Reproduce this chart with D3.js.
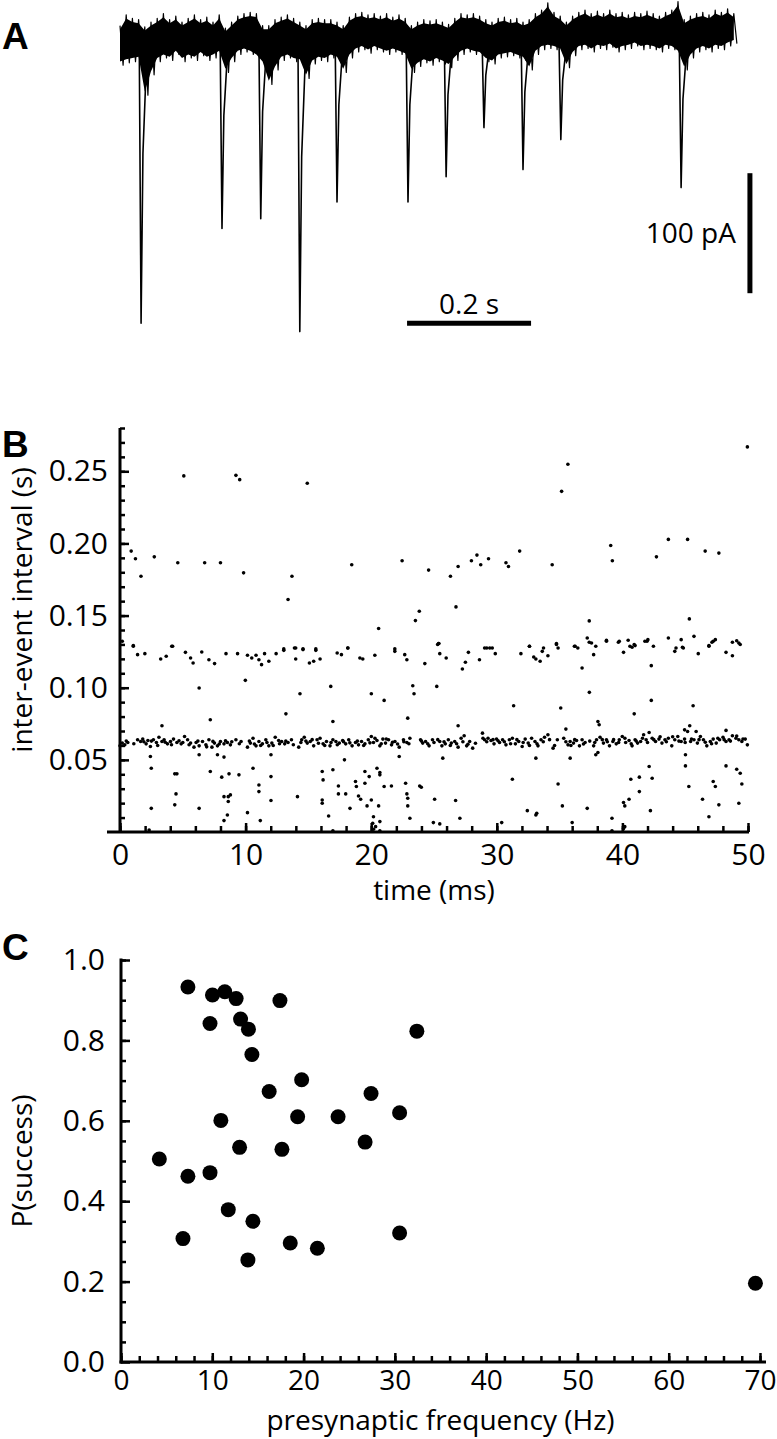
<!DOCTYPE html>
<html>
<head>
<meta charset="utf-8">
<script src="https://cdn.jsdelivr.net/npm/d3@7"></script>
<style>
body { margin: 0; background: #fff; }
svg text { font-family: 'Open Sans', sans-serif; fill: #000; }
.panel-label { font-family: 'Liberation Sans', Arial, sans-serif; font-weight: bold; font-size: 37px; }
.title { font-size: 28px; }
</style>
</head>
<body>
<svg id="fig" width="777" height="1439"></svg>
<script>
'use strict';

// ---- panel A: current trace (pA), noise envelope sampled every 10 ms ----
const traceStep = 0.01;
const traceUpper = [12, 21, 18, 17, 11, 15, 18, 22, 17, 20,
                    15, 18, 21, 17, 19, 15, 21, 10, 15, 20,
                    22, 23, 22, 12, 12, 17, 19, 21, 18, 15,
                    12, 17, 18, 17, 17, 15, 12, 19, 22, 23,
                    21, 22, 20, 22, 19, 21, 18, 12, 15, 17,
                    16, 17, 15, 13, 18, 22, 21, 22, 20, 17,
                    15, 18, 19, 17, 18, 15, 17, 22, 25, 31,
                    23, 20, 15, 20, 23, 25, 22, 24, 22, 25,
                    22, 23, 21, 23, 22, 24, 22, 20, 23, 25,
                    32, 17, 20, 22, 23, 21, 25, 23, 26, 22];
const traceLower = [-21, -19, -18, -17, -46, -29, -18, -15, -17, -12,
                    -18, -15, -17, -13, -17, -15, -12, -27, -18, -12,
                    -10, -12, -15, -21, -37, -25, -17, -15, -18, -19,
                    -32, -20, -17, -18, -15, -17, -27, -15, -10, -8,
                    -11, -8, -10, -12, -10, -12, -14, -27, -22, -19,
                    -21, -18, -20, -23, -17, -12, -10, -12, -13, -18,
                    -20, -15, -14, -13, -15, -17, -25, -12, -8, -7,
                    -8, -10, -23, -13, -8, -7, -10, -7, -8, -6,
                    -10, -8, -7, -5, -8, -7, -8, -10, -7, -8,
                    -12, -25, -15, -10, -8, -10, -7, -8, -5, -3];
const eventTimes = [0.034, 0.1645, 0.227, 0.290, 0.350, 0.4645, 0.526, 0.587, 0.650, 0.711, 0.905];
const eventPeaks = [-236, -157, -149, -243, -135, -135, -114, -73, -108, -83, -123];

// ---- panel B: inter-event intervals, [time (ms), interval (s)] ----
const ieiPoints = [
  // top scatter
  [0.89, 0.1947], [1.23, 0.1894], [1.67, 0.1773], [2.73, 0.1907], [4.60, 0.1866], [5.08, 0.2468],
  [6.74, 0.1866], [8.00, 0.1866], [9.23, 0.2472], [9.53, 0.2442], [9.84, 0.1796], [13.38, 0.1611],
  [13.69, 0.1773], [14.91, 0.2417], [18.45, 0.1852], [20.59, 0.1410], [22.46, 0.1880], [23.52, 0.1465],
  [23.83, 0.1530], [24.57, 0.1815], [25.39, 0.1306], [26.31, 0.1773], [26.75, 0.1560], [26.92, 0.1840],
  [27.98, 0.1880], [28.42, 0.1919], [28.72, 0.1852], [29.34, 0.1894], [30.73, 0.1866], [30.93, 0.1840],
  [31.82, 0.1947], [34.41, 0.1852], [35.16, 0.2361], [35.66, 0.2549], [37.36, 0.1463], [39.07, 0.1986],
  [39.20, 0.1880], [42.71, 0.1907], [43.66, 0.2028], [45.19, 0.2028], [45.33, 0.1477], [46.59, 0.1947],
  [47.68, 0.1933], [49.95, 0.2669],
  // 0.12-0.13 band
  [0.18, 0.1322], [1.06, 0.1287], [4.19, 0.1287], [13.04, 0.1269], [13.99, 0.1275], [14.57, 0.1269],
  [15.59, 0.1269], [18.14, 0.1275], [21.88, 0.1269], [25.36, 0.1306], [29.03, 0.1275], [29.44, 0.1275],
  [32.60, 0.1287], [33.72, 0.1275], [34.75, 0.1306], [34.88, 0.1275], [36.18, 0.1287], [36.45, 0.1275],
  [37.20, 0.1345], [37.36, 0.1315], [37.88, 0.1287], [38.73, 0.1329], [39.68, 0.1315], [40.46, 0.1329],
  [40.77, 0.1280], [41.01, 0.1292], [41.79, 0.1322], [42.03, 0.1333], [42.47, 0.1287], [43.66, 0.1345],
  [44.27, 0.1275], [44.68, 0.1333], [44.78, 0.1280], [45.70, 0.1356], [46.89, 0.1287], [47.13, 0.1315],
  [47.40, 0.1333], [48.76, 0.1315], [49.10, 0.1326], [49.38, 0.1299],
  [1.06, 0.1292], [1.40, 0.1229], [1.98, 0.1236], [3.24, 0.1199], [3.68, 0.1218], [4.12, 0.1287],
  [5.21, 0.1245], [5.62, 0.1206], [5.82, 0.1171], [6.51, 0.1248], [7.08, 0.1194], [7.53, 0.1167],
  [8.44, 0.1236], [9.36, 0.1236], [10.15, 0.1225], [10.49, 0.1206], [10.83, 0.1225], [11.06, 0.1194],
  [11.27, 0.1160], [11.51, 0.1236], [11.85, 0.1183], [12.43, 0.1236], [13.04, 0.1259], [13.89, 0.1275],
  [13.99, 0.1199], [14.57, 0.1264], [15.08, 0.1171], [15.42, 0.1183], [15.59, 0.1259], [15.93, 0.1199],
  [17.29, 0.1241], [17.63, 0.1229], [18.14, 0.1275], [19.10, 0.1206], [19.33, 0.1199], [20.29, 0.1225],
  [21.88, 0.1252], [22.67, 0.1229], [22.84, 0.1194], [24.27, 0.1167], [25.29, 0.1299], [25.46, 0.1236],
  [25.97, 0.1206], [27.26, 0.1130], [27.50, 0.1176], [27.74, 0.1245], [28.62, 0.1194], [29.20, 0.1275],
  [29.64, 0.1275], [29.88, 0.1236], [31.92, 0.1236], [32.60, 0.1287], [32.94, 0.1213], [33.11, 0.1199],
  [33.45, 0.1183], [33.62, 0.1252], [34.07, 0.1222], [34.75, 0.1299], [36.24, 0.1287], [36.79, 0.1137],
  [37.54, 0.1310], [37.71, 0.1229], [38.73, 0.1322], [39.75, 0.1322], [40.09, 0.1245], [40.60, 0.1287],
  [40.94, 0.1299], [41.96, 0.1322], [42.30, 0.1153], [44.17, 0.1252], [44.85, 0.1275], [46.04, 0.1236],
  [46.89, 0.1292], [47.23, 0.1322], [48.25, 0.1245], [48.76, 0.1222], [49.27, 0.1310],
  // between the bands
  [6.30, 0.0998], [9.98, 0.1051], [14.33, 0.0958], [16.78, 0.1009], [20.01, 0.0958], [21.03, 0.0912],
  [23.31, 0.1014], [23.41, 0.0958], [22.91, 0.0789], [25.22, 0.1009], [37.37, 0.0968], [31.34, 0.0875],
  [35.09, 0.0859], [42.30, 0.0912], [40.94, 0.0819], [45.63, 0.0875], [7.19, 0.0778], [3.34, 0.0736],
  [13.21, 0.0819], [16.95, 0.0766], [26.92, 0.0736], [38.05, 0.0766], [38.15, 0.0743], [45.36, 0.0736],
  [44.95, 0.0708], [45.87, 0.0697], [48.25, 0.0704], [35.50, 0.0713],
  // dense band near 0.06
  [0.00, 0.0597], [0.18, 0.0616], [0.38, 0.0604], [0.62, 0.0620], [1.40, 0.0639], [1.64, 0.0627],
  [1.81, 0.0644], [2.08, 0.0611], [2.22, 0.0634], [2.42, 0.0593], [2.66, 0.0639], [2.90, 0.0620],
  [3.10, 0.0657], [3.34, 0.0627], [3.51, 0.0639], [3.78, 0.0611], [4.02, 0.0627], [4.26, 0.0644],
  [4.53, 0.0620], [4.87, 0.0611], [5.14, 0.0662], [5.38, 0.0639], [5.62, 0.0616], [5.89, 0.0588],
  [6.06, 0.0620], [6.30, 0.0597], [6.57, 0.0627], [6.84, 0.0604], [7.08, 0.0639], [7.32, 0.0588],
  [7.52, 0.0616], [7.76, 0.0597], [8.00, 0.0627], [8.28, 0.0611], [8.55, 0.0620], [8.79, 0.0604],
  [9.23, 0.0639], [9.64, 0.0627], [10.15, 0.0588], [10.38, 0.0616], [10.59, 0.0650], [10.83, 0.0597],
  [11.06, 0.0627], [11.34, 0.0611], [11.61, 0.0639], [11.85, 0.0597], [12.09, 0.0616], [12.36, 0.0657],
  [12.63, 0.0634], [12.87, 0.0627], [13.11, 0.0611], [13.38, 0.0620], [13.65, 0.0639], [14.23, 0.0588],
  [14.47, 0.0639], [14.67, 0.0657], [14.91, 0.0616], [15.15, 0.0627], [15.42, 0.0597], [15.69, 0.0639],
  [15.93, 0.0650], [16.17, 0.0611], [16.44, 0.0627], [16.72, 0.0597], [16.95, 0.0639], [17.19, 0.0627],
  [17.46, 0.0616], [17.73, 0.0634], [17.97, 0.0611], [18.21, 0.0639], [18.48, 0.0597], [18.75, 0.0620],
  [18.99, 0.0604], [19.23, 0.0627], [19.50, 0.0611], [19.77, 0.0639], [20.01, 0.0662], [20.18, 0.0620],
  [20.46, 0.0634], [20.69, 0.0597], [20.93, 0.0644], [21.14, 0.0616], [21.38, 0.0639], [21.62, 0.0604],
  [21.89, 0.0627], [22.23, 0.0588], [22.57, 0.0639], [22.84, 0.0620], [23.08, 0.0650], [23.93, 0.0639],
  [24.10, 0.0616], [24.33, 0.0627], [24.61, 0.0597], [24.88, 0.0639], [25.46, 0.0627], [25.63, 0.0597],
  [25.90, 0.0611], [26.14, 0.0639], [26.38, 0.0616], [26.65, 0.0627], [26.92, 0.0588], [27.16, 0.0650],
  [27.40, 0.0667], [27.60, 0.0597], [27.84, 0.0627], [28.08, 0.0581], [28.86, 0.0685], [29.03, 0.0639],
  [29.30, 0.0650], [29.54, 0.0634], [29.78, 0.0611], [29.98, 0.0644], [30.22, 0.0620], [30.46, 0.0639],
  [30.73, 0.0604], [31.00, 0.0639], [31.24, 0.0650], [31.48, 0.0611], [31.75, 0.0627], [32.02, 0.0593],
  [32.26, 0.0644], [32.50, 0.0616], [32.77, 0.0650], [33.04, 0.0627], [33.28, 0.0597], [33.52, 0.0639],
  [33.80, 0.0657], [34.07, 0.0674], [34.48, 0.0581], [34.82, 0.0639], [35.33, 0.0650], [35.67, 0.0604],
  [35.84, 0.0627], [36.11, 0.0616], [36.35, 0.0634], [36.58, 0.0597], [36.79, 0.0639], [37.03, 0.0620],
  [37.71, 0.0597], [37.94, 0.0639], [38.22, 0.0657], [38.49, 0.0616], [38.73, 0.0639], [38.97, 0.0597],
  [39.24, 0.0627], [39.51, 0.0611], [39.75, 0.0639], [39.99, 0.0662], [40.26, 0.0620], [40.53, 0.0634],
  [40.77, 0.0597], [41.01, 0.0639], [41.21, 0.0616], [41.45, 0.0627], [41.69, 0.0674], [41.89, 0.0639],
  [42.13, 0.0690], [42.37, 0.0650], [42.64, 0.0627], [42.91, 0.0644], [43.15, 0.0616], [43.39, 0.0639],
  [43.66, 0.0650], [43.93, 0.0597], [44.17, 0.0639], [44.41, 0.0662], [44.68, 0.0627], [44.95, 0.0644],
  [45.19, 0.0697], [45.43, 0.0627], [45.70, 0.0639], [45.97, 0.0616], [46.21, 0.0662], [46.45, 0.0639],
  [46.72, 0.0597], [47.00, 0.0627], [47.23, 0.0644], [47.47, 0.0616], [47.74, 0.0639], [48.01, 0.0657],
  [48.25, 0.0627], [48.49, 0.0639], [48.76, 0.0667], [49.04, 0.0650], [49.27, 0.0639], [49.51, 0.0627],
  [49.78, 0.0644], [49.95, 0.0604],
  [0.5, 0.0630], [1.1, 0.0612], [1.9, 0.0625], [2.5, 0.0630], [3.0, 0.0600], [3.6, 0.0622], [4.1, 0.0605],
  [4.7, 0.0632], [5.0, 0.0620], [5.5, 0.0605], [6.2, 0.0630], [6.9, 0.0590], [7.4, 0.0628], [7.9, 0.0610],
  [8.4, 0.0632], [8.9, 0.0625], [9.5, 0.0612], [10.3, 0.0630], [10.7, 0.0610], [11.2, 0.0600], [11.7, 0.0620],
  [12.2, 0.0600], [12.7, 0.0612], [13.2, 0.0630], [13.8, 0.0605], [14.4, 0.0620], [14.8, 0.0630], [15.3, 0.0640],
  [15.8, 0.0615], [16.3, 0.0600], [16.8, 0.0620], [17.3, 0.0605], [17.8, 0.0625], [18.3, 0.0618], [18.9, 0.0630],
  [19.4, 0.0600], [19.9, 0.0618], [20.3, 0.0650], [20.8, 0.0612], [21.2, 0.0645], [21.7, 0.0622], [22.1, 0.0610],
  [22.6, 0.0625], [23.0, 0.0612], [24.0, 0.0630], [24.5, 0.0612], [25.0, 0.0620], [25.3, 0.0640], [25.8, 0.0625],
  [26.3, 0.0600], [26.8, 0.0612], [27.3, 0.0625], [27.7, 0.0608], [28.3, 0.0615], [28.9, 0.0650], [29.2, 0.0625],
  [29.7, 0.0640], [30.1, 0.0632], [30.6, 0.0625], [31.1, 0.0612], [31.6, 0.0640], [32.1, 0.0620], [32.6, 0.0600],
  [33.2, 0.0612], [33.7, 0.0625], [34.2, 0.0640], [34.6, 0.0600], [35.5, 0.0625], [35.9, 0.0600], [36.2, 0.0640],
  [36.9, 0.0610], [37.4, 0.0630], [37.8, 0.0620], [38.4, 0.0640], [38.8, 0.0625], [39.3, 0.0640], [39.7, 0.0620],
  [40.2, 0.0650], [40.7, 0.0612], [41.1, 0.0630], [41.6, 0.0650], [42.0, 0.0620], [42.5, 0.0640], [43.0, 0.0660],
  [43.5, 0.0625], [44.0, 0.0660], [44.5, 0.0630], [45.0, 0.0620], [45.5, 0.0645], [46.1, 0.0640], [46.6, 0.0622],
  [47.1, 0.0612], [47.6, 0.0650], [48.1, 0.0640], [48.6, 0.0630], [49.1, 0.0665], [49.6, 0.0645],
  // just below the band
  [6.30, 0.0535], [7.76, 0.0535], [2.42, 0.0523], [8.28, 0.0519], [33.11, 0.0512], [35.84, 0.0512],
  [37.88, 0.0535], [38.05, 0.0551], [45.02, 0.0535], [25.70, 0.0512], [22.23, 0.0523], [12.02, 0.0535],
  // short intervals
  [2.49, 0.0442], [4.36, 0.0403], [4.53, 0.0403], [4.46, 0.0264], [4.36, 0.0188], [2.49, 0.0164],
  [6.30, 0.0164], [7.19, 0.0419], [8.10, 0.0380], [8.28, 0.0245], [8.62, 0.0245], [8.79, 0.0257],
  [8.62, 0.0211], [8.68, 0.0403], [8.55, 0.0118], [8.28, 0.0079], [9.47, 0.0396], [10.15, 0.0134],
  [10.59, 0.0442], [11.06, 0.0326], [11.06, 0.0280], [11.17, 0.0079], [12.02, 0.0384], [12.02, 0.0218],
  [14.13, 0.0245], [16.10, 0.0419], [16.17, 0.0361], [16.10, 0.0222], [16.10, 0.0199], [16.61, 0.0111],
  [16.95, 0.0431], [17.39, 0.0319], [17.39, 0.0264], [17.87, 0.0500], [17.97, 0.0264], [18.31, 0.0164],
  [18.75, 0.0350], [18.82, 0.0315], [18.99, 0.0250], [19.16, 0.0227], [19.50, 0.0419], [19.50, 0.0338],
  [19.67, 0.0181], [19.84, 0.0384], [20.01, 0.0222], [20.12, 0.0060], [20.18, 0.0106], [20.35, 0.0037],
  [20.46, 0.0442], [20.59, 0.0181], [20.69, 0.0412], [20.69, 0.0396], [20.69, 0.0072], [21.03, 0.0315],
  [21.61, 0.0319], [22.74, 0.0338], [22.84, 0.0264], [22.91, 0.0234], [22.91, 0.0181], [23.08, 0.0095],
  [23.86, 0.0319], [23.99, 0.0310], [25.05, 0.0227], [24.95, 0.0065], [25.46, 0.0056], [26.72, 0.0218],
  [27.06, 0.0095], [30.39, 0.0065], [31.24, 0.0366], [32.43, 0.0148], [33.11, 0.0118], [33.18, 0.0130],
  [34.88, 0.0333], [35.22, 0.0181], [36.00, 0.0065], [37.20, 0.0164], [39.17, 0.0095], [40.09, 0.0204],
  [40.19, 0.0181], [40.19, 0.0037], [40.53, 0.0227], [40.67, 0.0366], [41.35, 0.0380], [41.35, 0.0280],
  [42.13, 0.0454], [42.23, 0.0148], [42.37, 0.0373], [45.02, 0.0458], [45.29, 0.0315], [46.38, 0.0227],
  [46.89, 0.0106], [47.23, 0.0350], [47.40, 0.0315], [47.68, 0.0188], [48.25, 0.0458], [49.10, 0.0435],
  [49.38, 0.0407], [49.51, 0.0333], [49.27, 0.0199],
  [2.32, 0.0014], [39.17, 0.0009], [40.09, 0.0025], [20.18, 0.0019], [20.69, 0.0009], [16.95, 0.0009]
];
const ieiTicks = [0.05, 0.10, 0.15, 0.20, 0.25];
const timeTicks = [0, 10, 20, 30, 40, 50];

// ---- panel C: success probability vs presynaptic frequency ----
const freqHz = [7.33, 10.02, 11.37, 12.61, 17.41, 9.75, 13.10, 13.96, 32.41, 14.34, 19.79,
                16.23, 27.39, 10.94, 19.35, 23.78, 30.52, 12.99, 17.63, 26.74, 4.20, 7.33,
                9.75, 11.75, 14.45, 6.79, 13.90, 18.54, 21.51, 30.52, 69.50];
const pSuccess = [0.933, 0.913, 0.921, 0.904, 0.899, 0.842, 0.853, 0.828, 0.823, 0.765, 0.702,
                  0.673, 0.668, 0.601, 0.610, 0.610, 0.620, 0.534, 0.529, 0.547, 0.505, 0.462,
                  0.471, 0.379, 0.350, 0.307, 0.254, 0.296, 0.283, 0.321, 0.196];
const pTicks = [0, 0.2, 0.4, 0.6, 0.8, 1.0];
const freqTicks = [0, 10, 20, 30, 40, 50, 60, 70];

const svg = d3.select('#fig');

renderTrace();
renderIntervals();
renderSuccess();

function panelLabel(text, x, y) {
    svg.append('text')
       .attr('class', 'panel-label')
       .attr('x', x)
       .attr('y', y)
       .text(text);
}

function styleAxis(g, size) {
    g.attr('font-size', size)
     .attr('font-family', "'Open Sans', sans-serif");
    g.select('.domain').remove();
    g.selectAll('.tick line').attr('stroke', '#000').attr('stroke-width', 2.5);
}

// ticks point into the plot, labels sit outside
function leftAxis(scale, x, major, minor, fmt, pad) {
    svg.append('g')
       .attr('transform', 'translate(' + x + ',0)')
       .call(d3.axisLeft(scale).tickValues(minor).tickSizeInner(-5).tickSizeOuter(0).tickFormat(() => ''))
       .call(g => styleAxis(g, 30));
    svg.append('g')
       .attr('transform', 'translate(' + x + ',0)')
       .call(d3.axisLeft(scale).tickValues(major).tickSizeInner(-9).tickSizeOuter(0).tickPadding(pad).tickFormat(fmt))
       .call(g => styleAxis(g, 30));
}

function bottomAxis(scale, y, major, minor, pad, size) {
    svg.append('g')
       .attr('transform', 'translate(0,' + y + ')')
       .call(d3.axisBottom(scale).tickValues(minor).tickSizeInner(-6).tickSizeOuter(0).tickFormat(() => ''))
       .call(g => styleAxis(g, size));
    svg.append('g')
       .attr('transform', 'translate(0,' + y + ')')
       .call(d3.axisBottom(scale).tickValues(major).tickSizeInner(-9).tickSizeOuter(0).tickPadding(pad).tickFormat(d3.format('d')))
       .call(g => styleAxis(g, size));
}

function axisLine(x1, y1, x2, y2) {
    svg.append('line')
       .attr('x1', x1).attr('y1', y1)
       .attr('x2', x2).attr('y2', y2)
       .attr('stroke', '#000')
       .attr('stroke-width', 3);
}

function renderTrace() {
    let x = d3.scaleLinear().domain([0, 1]).range([120, 740]);
    let y = d3.scaleLinear().domain([0, -100]).range([40, 160]);

    let zig = [];
    let band = [];
    traceUpper.forEach(function(u, i) {
        let t = i * traceStep;
        zig.push([t, u]);
        zig.push([t + traceStep / 2, traceLower[i]]);
        band.push({t: t, u: u, l: traceLower[i]});
    });

    // solid core of the noise band, jagged edges drawn by the zigzag on top
    svg.append('path')
       .datum(band)
       .attr('fill', '#000')
       .attr('d', d3.area().x(d => x(d.t)).y0(d => y(d.l + 3)).y1(d => y(d.u - 3)));

    svg.append('path')
       .datum(zig)
       .attr('fill', 'none')
       .attr('stroke', '#000')
       .attr('stroke-width', 1.2)
       .attr('stroke-linejoin', 'round')
       .attr('d', d3.line().x(d => x(d[0])).y(d => y(d[1])));

    let spike = d3.line().x(d => x(d[0])).y(d => y(d[1]));
    eventTimes.forEach(function(t, k) {
        let p = eventPeaks[k];
        svg.append('path')
           .attr('fill', 'none')
           .attr('stroke', '#000')
           .attr('stroke-width', 1.6)
           .attr('stroke-linejoin', 'round')
           .attr('d', spike([[t - 0.003, 0], [t, p], [t + 0.003, p * 0.4], [t + 0.01, 0]]));
    });

    // scale bars: 0.2 s and 100 pA
    let barT0 = 0.463, barLevel = -236;
    svg.append('line')
       .attr('x1', x(barT0)).attr('x2', x(barT0 + 0.2))
       .attr('y1', y(barLevel)).attr('y2', y(barLevel))
       .attr('stroke', '#000').attr('stroke-width', 5);
    svg.append('text')
       .attr('class', 'title')
       .attr('x', x(barT0 + 0.1))
       .attr('y', y(barLevel) - 9)
       .attr('text-anchor', 'middle')
       .text('0.2 s');

    let barT = 1.016, barTop = -111;
    svg.append('line')
       .attr('x1', x(barT)).attr('x2', x(barT))
       .attr('y1', y(barTop)).attr('y2', y(barTop - 100))
       .attr('stroke', '#000').attr('stroke-width', 5);
    svg.append('text')
       .attr('class', 'title')
       .attr('x', x(barT) - 14)
       .attr('y', y(barTop - 50) + 10)
       .attr('text-anchor', 'end')
       .text('100 pA');

    panelLabel('A', 2, 49);
}

function renderIntervals() {
    let x = d3.scaleLinear().domain([0, 50]).range([120, 748]);
    let y = d3.scaleLinear().domain([0, 0.28]).range([832, 428]);

    leftAxis(y, 120, ieiTicks, d3.range(0.01, 0.2801, 0.01), d3.format('.2f'), 12);
    bottomAxis(x, 832, timeTicks, d3.range(0, 50.1, 2), 12, 30);
    axisLine(120, 832, 120, 428);
    axisLine(107, 832, 749, 832);

    svg.append('g')
       .selectAll('circle')
       .data(ieiPoints)
       .join('circle')
       .attr('cx', d => x(d[0]))
       .attr('cy', d => y(d[1]))
       .attr('r', 1.8)
       .attr('fill', '#000');

    svg.append('text')
       .attr('class', 'title')
       .attr('x', (x.range()[0] + x.range()[1]) / 2)
       .attr('y', 900)
       .attr('text-anchor', 'middle')
       .text('time (ms)');

    svg.append('text')
       .attr('class', 'title')
       .attr('transform', 'translate(32,' + 610 + ') rotate(-90)')
       .attr('text-anchor', 'middle')
       .text('inter-event interval (s)');

    panelLabel('B', 2, 457);
}

function renderSuccess() {
    let x = d3.scaleLinear().domain([0, 70]).range([121, 760]);
    let y = d3.scaleLinear().domain([0, 1]).range([1362, 960]);

    leftAxis(y, 121, pTicks, d3.range(0.05, 1.001, 0.05), d3.format('.1f'), 16);
    bottomAxis(x, 1362, freqTicks, d3.range(0, 70.1, 2), 8, 28);
    axisLine(121, 1363.5, 121, 958.5);
    axisLine(119.5, 1362, 766, 1362);

    svg.append('g')
       .selectAll('circle')
       .data(freqHz)
       .join('circle')
       .attr('cx', d => x(d))
       .attr('cy', (d, i) => y(pSuccess[i]))
       .attr('r', 7.5)
       .attr('fill', '#000');

    svg.append('text')
       .attr('class', 'title')
       .attr('x', (x.range()[0] + x.range()[1]) / 2)
       .attr('y', 1430)
       .attr('text-anchor', 'middle')
       .text('presynaptic frequency (Hz)');

    svg.append('text')
       .attr('class', 'title')
       .attr('transform', 'translate(32,' + 1161 + ') rotate(-90)')
       .attr('text-anchor', 'middle')
       .text('P(success)');

    panelLabel('C', 2, 960);
}
</script>
</body>
</html>
